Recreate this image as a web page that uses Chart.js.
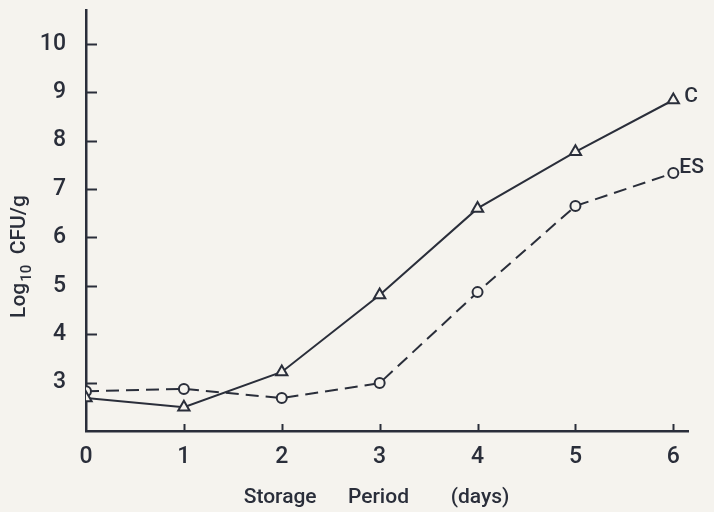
<!DOCTYPE html>
<html>
<head>
<meta charset="utf-8">
<script src="https://cdn.jsdelivr.net/npm/chart.js@4"></script>
<style>
  html, body { margin: 0; padding: 0; background: #f5f3ee; }
  #wrap { width: 714px; height: 512px; }
</style>
</head>
<body>
<div id="wrap"><canvas id="cfuChart" width="714" height="512"></canvas></div>
<script>
// storage days and log10 CFU/g
const days = [0, 1, 2, 3, 4, 5, 6];
const valuesC = [2.68, 2.49, 3.22, 4.81, 6.60, 7.77, 8.84];
const valuesES = [2.82, 2.87, 2.68, 2.99, 4.87, 6.65, 7.33];
const seriesNames = ['C', 'ES'];
const yTickValues = [3, 4, 5, 6, 7, 8, 9, 10];
const xTickValues = [1, 2, 3, 4, 5, 6];

const ink = '#2a2e3a';
const paper = '#f5f3ee';
const fontFam = 'Roboto, "Noto Sans", sans-serif';

// inward tick marks + end labels + y title with subscript
const figureExtras = {
    id: 'figureExtras',
    afterDraw(chart) {
        const c = chart.ctx;
        const xs = chart.scales.x, ys = chart.scales.y;
        const area = chart.chartArea;
        c.save();
        c.strokeStyle = ink;
        c.lineWidth = 2;
        yTickValues.forEach(v => {
            const py = Math.round(ys.getPixelForValue(v)) + 0.5;
            c.beginPath(); c.moveTo(area.left, py); c.lineTo(area.left + 11, py); c.stroke();
        });
        xTickValues.forEach(v => {
            const px = Math.round(xs.getPixelForValue(v)) + 0.5;
            c.beginPath(); c.moveTo(px, area.bottom); c.lineTo(px, area.bottom - 7); c.stroke();
        });

        // series names next to last points
        c.fillStyle = ink;
        c.font = '500 21px ' + fontFam;
        c.textBaseline = 'middle';
        c.textAlign = 'left';
        chart.data.datasets.forEach((ds, i) => {
            const meta = chart.getDatasetMeta(i);
            const last = meta.data[meta.data.length - 1];
            c.fillText(seriesNames[i], last.x + (i === 0 ? 11 : 6), last.y - (i === 0 ? 3 : 5));
        });

        // y axis title: Log10 CFU/g, rotated
        c.translate(25, 257);
        c.rotate(-Math.PI / 2);
        c.textBaseline = 'alphabetic';
        const big = '500 21px ' + fontFam, small = '500 15px ' + fontFam;
        c.font = big; const w1 = c.measureText('Log').width;
        c.font = small; const w2 = c.measureText('10').width;
        c.font = big; const w3 = c.measureText('  CFU/g').width;
        let x0 = -(w1 + w2 + w3) / 2;
        c.font = big; c.fillText('Log', x0, 0);
        c.font = small; c.fillText('10', x0 + w1 + 1, 6);
        c.font = big; c.fillText('  CFU/g', x0 + w1 + w2 + 1, 0);
        c.restore();
    }
};

const ctx = document.getElementById('cfuChart').getContext('2d');
const cfuChart = new Chart(ctx, {
    type: 'line',
    data: {
        datasets: [{
            label: seriesNames[0],
            data: days.map((d, i) => ({ x: d, y: valuesC[i] })),
            borderColor: ink,
            borderWidth: 2,
            pointStyle: 'triangle',
            pointRadius: 6.5,
            pointBorderWidth: 2,
            pointBorderColor: ink,
            pointBackgroundColor: paper,
            tension: 0
        }, {
            label: seriesNames[1],
            data: days.map((d, i) => ({ x: d, y: valuesES[i] })),
            borderColor: ink,
            borderWidth: 2,
            borderDash: [13, 7],
            pointStyle: 'circle',
            pointRadius: 5,
            pointBorderWidth: 2,
            pointBorderColor: ink,
            pointBackgroundColor: paper,
            tension: 0
        }]
    },
    options: {
        responsive: false,
        animation: false,
        events: [],
        layout: { padding: { top: 10, right: 26, left: 0, bottom: 0 } },
        plugins: { legend: { display: false }, tooltip: { enabled: false } },
        scales: {
            x: {
                type: 'linear',
                min: 0,
                max: 6.15,
                grid: { display: false, drawTicks: false },
                border: { display: true, color: ink, width: 2.5 },
                ticks: {
                    stepSize: 1,
                    includeBounds: false,
                    padding: 12,
                    color: ink,
                    font: { family: fontFam, size: 23, weight: '500' },
                    callback: v => Number.isInteger(v) ? String(v) : ''
                },
                title: {
                    display: true,
                    text: 'Storage      Period        (days)    ',
                    color: ink,
                    font: { family: fontFam, size: 21, weight: '500' },
                    padding: { top: 0, bottom: 2 }
                },
                afterFit: s => { s.height = 81; s.paddingLeft = 0; s.paddingRight = 0; }
            },
            y: {
                min: 2,
                max: 10.7,
                grid: { display: false, drawTicks: false },
                border: { display: true, color: ink, width: 2.5 },
                ticks: {
                    stepSize: 1,
                    includeBounds: false,
                    padding: 20,
                    color: ink,
                    font: { family: fontFam, size: 23, weight: '500' },
                    callback: v => (v >= 3 && Number.isInteger(v)) ? String(v) : ''
                },
                afterFit: s => { s.width = 86; s.paddingTop = 0; s.paddingBottom = 0; }
            }
        }
    },
    plugins: [figureExtras]
});
</script>
</body>
</html>
